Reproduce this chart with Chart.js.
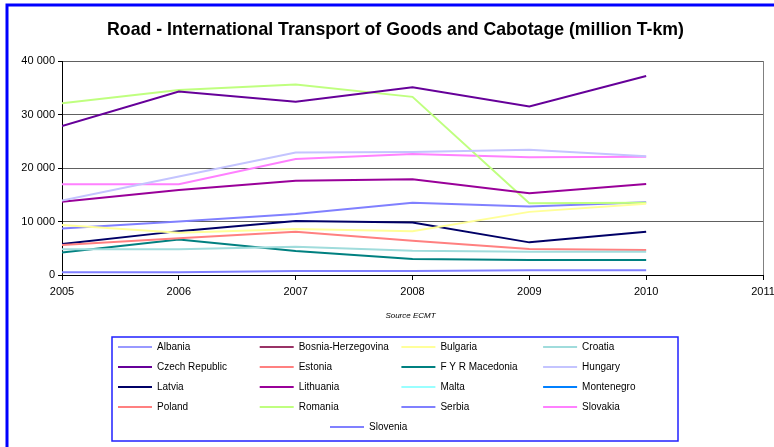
<!DOCTYPE html>
<html>
<head>
<meta charset="utf-8">
<title>Road - International Transport of Goods and Cabotage</title>
<script src="https://cdn.jsdelivr.net/npm/chart.js@4.4.1/dist/chart.umd.min.js"></script>
<style>
  html, body { margin: 0; padding: 0; background: #fff; }
  #wrap { width: 774px; height: 447px; position: relative; }
</style>
</head>
<body>
<div id="wrap"><canvas id="roadChart"></canvas></div>
<script>
// million tonne-km, 2005..2010 (null = no data)
const years = [2005, 2006, 2007, 2008, 2009, 2010];

const albania      = [null, null, null, null, null, null];
const bosnia       = [null, null, null, null, null, null];
const bulgaria     = [9350, 7900, 8600, 8200, 11800, 13300];
const croatia      = [4800, 4800, 5300, 4550, 4350, 4350];
const czechRep     = [27850, 34300, 32400, 35100, 31500, 37200];
const estonia      = [5600, 6850, 8100, 6400, 4850, 4650];
const fyrMacedonia = [4200, 6650, 4500, 3000, 2800, 2800];
const hungary      = [13900, 18400, 22900, 23000, 23400, 22200];
const latvia       = [5800, 8200, 10100, 9800, 6100, 8100];
const lithuania    = [13700, 15900, 17600, 17900, 15300, 17000];
const malta        = [null, null, null, null, null, null];
const montenegro   = [null, null, null, null, null, null];
const poland       = [null, null, null, null, null, null];
const romania      = [32100, 34600, 35600, 33300, 13400, 13500];
const serbia       = [500, 500, 750, 750, 900, 900];
const slovakia     = [16950, 16950, 21700, 22600, 22000, 22100];
const slovenia     = [8700, 10000, 11400, 13500, 12800, 13600];

const yTicks = [0, 10000, 20000, 30000, 40000];

const series = [
    { name: 'Albania',            values: albania,      color: '#9999ff' },
    { name: 'Bosnia-Herzegovina', values: bosnia,       color: '#993366' },
    { name: 'Bulgaria',           values: bulgaria,     color: '#ffff99' },
    { name: 'Croatia',            values: croatia,      color: '#a0dcdc' },
    { name: 'Czech Republic',     values: czechRep,     color: '#660099' },
    { name: 'Estonia',            values: estonia,      color: '#ff8080' },
    { name: 'F Y R Macedonia',    values: fyrMacedonia, color: '#008080' },
    { name: 'Hungary',            values: hungary,      color: '#c4c4ff' },
    { name: 'Latvia',             values: latvia,       color: '#000066' },
    { name: 'Lithuania',          values: lithuania,    color: '#990099' },
    { name: 'Malta',              values: malta,        color: '#99ffff' },
    { name: 'Montenegro',         values: montenegro,   color: '#0080ff' },
    { name: 'Poland',             values: poland,       color: '#ff8080' },
    { name: 'Romania',            values: romania,      color: '#bfff7f' },
    { name: 'Serbia',             values: serbia,       color: '#8080ff' },
    { name: 'Slovakia',           values: slovakia,     color: '#ff80ff' },
    { name: 'Slovenia',           values: slovenia,     color: '#8080ff' },
];

const TITLE = 'Road - International Transport of Goods and Cabotage (million T-km)';
const FONT = "Arial, 'Liberation Sans', sans-serif";

const spaced = (v) => String(v).replace(/\B(?=(\d{3})+(?!\d))/g, ' ');

// white page, blue frame along the top and left edges, and the heading
const framePlugin = {
    id: 'frame',
    beforeDraw(chart) {
        const { ctx, width, height } = chart;
        ctx.save();
        ctx.fillStyle = '#fff';
        ctx.fillRect(0, 0, width, height);
        ctx.strokeStyle = '#0000ff';
        ctx.lineWidth = 3;
        ctx.beginPath();
        ctx.moveTo(7, height);
        ctx.lineTo(7, 5);
        ctx.lineTo(width, 5);
        ctx.stroke();

        ctx.font = 'bold 17.7px ' + FONT;
        ctx.fillStyle = '#000';
        ctx.textAlign = 'center';
        ctx.textBaseline = 'middle';
        ctx.fillText(TITLE, 395.5, 30);
        ctx.restore();
    }
};

// "Source ECMT" note plus a boxed 4-column legend under the plot
const legendGridPlugin = {
    id: 'legendGrid',
    afterDraw(chart) {
        const { ctx } = chart;
        const area = chart.chartArea;
        ctx.save();

        ctx.font = 'italic 8px ' + FONT;
        ctx.fillStyle = '#000';
        ctx.textAlign = 'center';
        ctx.textBaseline = 'middle';
        ctx.fillText('Source ECMT', (area.left + area.right) / 2 - 2, 316);

        const box = { left: 112, top: 337, right: 678, bottom: 441 };
        ctx.strokeStyle = '#2020ff';
        ctx.lineWidth = 1.5;
        ctx.strokeRect(box.left, box.top, box.right - box.left, box.bottom - box.top);

        const colW = 141.7, rowH = 20, cols = 4;
        const n = chart.data.datasets.length;
        ctx.font = '10px ' + FONT;
        ctx.textAlign = 'left';
        chart.data.datasets.forEach((ds, i) => {
            const col = i % cols, row = Math.floor(i / cols);
            let x = box.left + 6 + col * colW;
            const y = box.top + 10 + row * rowH;
            // a lone item on the last row sits in the middle
            if (row === Math.floor((n - 1) / cols) && n % cols === 1) {
                x = 330;
            }
            ctx.strokeStyle = ds.borderColor;
            ctx.lineWidth = 2;
            ctx.beginPath();
            ctx.moveTo(x, y);
            ctx.lineTo(x + 34, y);
            ctx.stroke();
            ctx.fillStyle = '#000';
            ctx.fillText(ds.label, x + 39, y + 0.5);
        });
        ctx.restore();
    }
};

const datasets = series.map(s => ({
    label: s.name,
    data: years.map((yr, i) => ({ x: yr, y: s.values[i] })),
    borderColor: s.color,
    backgroundColor: s.color,
    borderWidth: 2,
    pointRadius: 0,
    tension: 0,
    spanGaps: false,
}));

new Chart(document.getElementById('roadChart'), {
    type: 'line',
    data: { datasets },
    options: {
        responsive: true,
        maintainAspectRatio: false,
        animation: false,
        layout: { padding: { left: 0, right: 11, top: 61, bottom: 130 } },
        plugins: {
            legend: { display: false },
            tooltip: { enabled: false },
            title: { display: false },
        },
        scales: {
            x: {
                type: 'linear',
                min: 2005,
                max: 2011,
                afterFit: (scale) => {
                    scale.height = 42;
                    // let the end labels hang into the page margin
                    scale.paddingLeft = 0;
                    scale.paddingRight = 0;
                },
                border: { display: true, color: '#000', width: 1 },
                grid: {
                    color: (c) => (c.tick && c.tick.value === 2011 ? '#808080' : 'rgba(0,0,0,0)'),
                    tickColor: '#000',
                    tickLength: 5,
                },
                ticks: {
                    stepSize: 1,
                    padding: 5,
                    color: '#000',
                    font: { family: FONT, size: 11 },
                    maxRotation: 0,
                    callback: (v) => String(v),
                },
            },
            y: {
                min: 0,
                max: 40000,
                afterFit: (scale) => { scale.width = 62; },
                afterBuildTicks: (scale) => { scale.ticks = yTicks.map(v => ({ value: v })); },
                border: { display: true, color: '#000', width: 1 },
                grid: {
                    color: '#606060',
                    tickColor: '#000',
                    tickLength: 4,
                },
                ticks: {
                    padding: 3,
                    color: '#000',
                    font: { family: FONT, size: 11 },
                    callback: (v) => spaced(v),
                },
            },
        },
    },
    plugins: [framePlugin, legendGridPlugin],
});
</script>
</body>
</html>
